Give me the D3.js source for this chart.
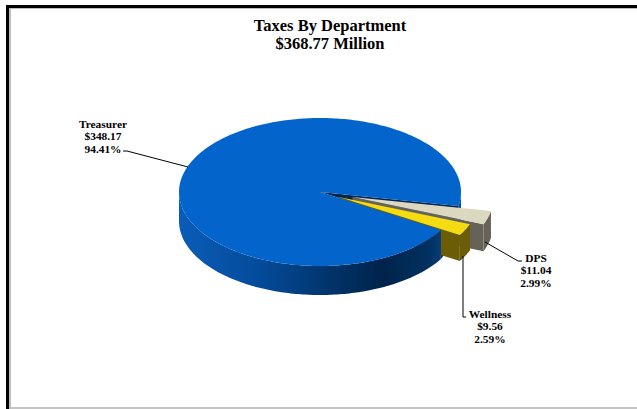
<!DOCTYPE html>
<html>
<head>
<meta charset="utf-8">
<script src="https://cdn.jsdelivr.net/npm/d3@7"></script>
<style>
html,body{margin:0;padding:0;background:#fff}
svg{display:block}
text{font-family:"Liberation Serif",serif;font-weight:bold;fill:#000;text-anchor:middle}
</style>
</head>
<body>
<svg id="chart" width="637" height="409"></svg>
<script>
// Department tax totals, in millions of dollars
const departments = ["Treasurer", "DPS", "Wellness"];
const amounts = [348.17, 11.04, 9.56];
const amountLabels = ["$348.17", "$11.04", "$9.56"];
const shareLabels = ["94.41%", "2.99%", "2.59%"];
const titleLines = ["Taxes By Department", "$368.77 Million"];
const topColors = ["#0365cc", "#dcd8c0", "#f4dc12"];
const rimColors = ["url(#rimBlue)", "#666257", "#6b5c08"];
const explode = [0, 0.24, 0.15];

const W = 637, H = 409;
const cx = 320, cy = 192, rx = 141, ry = 74;
const depths = [29, 27, 26];
const deg = Math.PI / 180;
const firstAngle = 121 * deg;

const svg = d3.select("#chart");

// Left-to-right shading of the blue rim
const grad = svg.append("defs").append("linearGradient")
  .attr("id", "rimBlue").attr("gradientUnits", "userSpaceOnUse")
  .attr("x1", cx - rx).attr("x2", cx + rx).attr("y1", 0).attr("y2", 0);
[[0, "#0a5cb8"], [0.3, "#044a98"], [0.55, "#013268"], [0.72, "#00234c"], [0.88, "#02305f"], [1, "#0a4c98"]]
  .forEach(([o, c]) => grad.append("stop").attr("offset", o).attr("stop-color", c));

// Page frame
svg.append("rect").attr("x", 9).attr("y", 8).attr("width", 2).attr("height", H - 8).attr("fill", "#bdbdbd");
svg.append("rect").attr("x", 9).attr("y", 8).attr("width", W - 9).attr("height", 1).attr("fill", "#bdbdbd");
svg.append("rect").attr("x", 6).attr("y", 5).attr("width", 3).attr("height", H - 5).attr("fill", "#000");
svg.append("rect").attr("x", 6).attr("y", 5).attr("width", W - 6).attr("height", 3).attr("fill", "#000");
svg.append("rect").attr("x", 11).attr("y", 407).attr("width", W - 11).attr("height", 2).attr("fill", "#c4c4c4");

// Title
svg.selectAll("text.title").data(titleLines).join("text")
  .attr("class", "title").attr("x", 330).attr("y", (d, i) => 31 + i * 18)
  .attr("font-size", 16.5).text(d => d);

const pie = d3.pie().sort(null).startAngle(firstAngle).endAngle(firstAngle + 2 * Math.PI);
// Slices past north are wrapped back so their angles stay within one turn
const arcs = pie(amounts).map((d, i) => {
  const turn = i > 0 ? 2 * Math.PI : 0;
  return { ...d, i, startAngle: d.startAngle - turn, endAngle: d.endAngle - turn };
});

const sx = d3.scaleLinear().domain([-1, 1]).range([-rx, rx]);
const sy = d3.scaleLinear().domain([-1, 1]).range([-ry, ry]);

// Unit-circle point for a clockwise-from-north pie angle, with the slice's outward shift
const bisector = d => (d.startAngle + d.endAngle) / 2;
const shift = d => {
  const b = bisector(d), e = explode[d.i];
  return [e * Math.sin(b), -e * Math.cos(b)];
};
const onRim = (d, a, z = 0) => {
  const [ox, oy] = shift(d);
  return [cx + sx(Math.sin(a) + ox), cy + sy(-Math.cos(a) + oy) + z];
};
const apex = (d, z = 0) => {
  const [ox, oy] = shift(d);
  return [cx + sx(ox), cy + sy(oy) + z];
};
const line = d3.line();
const rimSteps = (a0, a1) => {
  const n = Math.max(2, Math.ceil(Math.abs(a1 - a0) / deg));
  return d3.range(n + 1).map(k => a0 + (a1 - a0) * k / n);
};
const topPath = d => line([apex(d), ...rimSteps(d.startAngle, d.endAngle).map(a => onRim(d, a))]) + "Z";

// Outer wall between two angles
const wallPath = (d, lo, hi) => {
  const a = rimSteps(lo, hi), z = depths[d.i];
  return line([...a.map(t => onRim(d, t)), ...a.slice().reverse().map(t => onRim(d, t, z))]) + "Z";
};
// A flat cut face running from the slice's centre to its rim
const cutPath = (d, a) => line([apex(d), onRim(d, a), onRim(d, a, depths[d.i]), apex(d, depths[d.i])]) + "Z";

const [blue, dps, wellness] = arcs;
const g = svg.append("g");

// Sliver of blue wall on the right, and the dark opening left by the pulled-out slices
g.append("path").attr("d", wallPath(blue, Math.PI / 2, dps.startAngle)).attr("fill", "#0a4c98");
g.append("path").attr("d", line([apex(blue), onRim(blue, dps.startAngle), onRim(blue, dps.startAngle, depths[0]), onRim(blue, wellness.endAngle, depths[0]), onRim(blue, wellness.endAngle)]) + "Z").attr("fill", "#02264f");

// Pulled-out slices, far one first
[dps, wellness].forEach(d => {
  g.append("path").attr("d", cutPath(d, d.endAngle)).attr("fill", rimColors[d.i]);
  g.append("path").attr("d", wallPath(d, d.startAngle, d.endAngle)).attr("fill", rimColors[d.i]);
  g.append("path").attr("d", topPath(d)).attr("fill", topColors[d.i]);
});

// Blue body sits in front of the cut faces behind it
g.append("path").attr("d", wallPath(blue, blue.startAngle, 3 * Math.PI / 2)).attr("fill", rimColors[0]);
g.append("path").attr("d", topPath(blue)).attr("fill", topColors[0]);

// Leader lines
const leaders = [
  [[123, 151], [127, 151], [188, 167]],
  [[522, 261], [518, 261], [485, 242]],
  [[466, 317], [463, 317], [463, 256]]
];
leaders.forEach(pts => svg.append("path").attr("d", line(pts)).attr("fill", "none").attr("stroke", "#000").attr("stroke-width", 1));

// Slice labels
const labelPos = [[103, 128], [536, 262], [490, 318]];
departments.forEach((name, i) => {
  const rows = [name, amountLabels[i], shareLabels[i]];
  svg.selectAll("text.l" + i).data(rows).join("text")
    .attr("class", "l" + i).attr("x", labelPos[i][0]).attr("y", (d, k) => labelPos[i][1] + k * 12.3)
    .attr("font-size", 11.4).text(d => d);
});
</script>
</body>
</html>
